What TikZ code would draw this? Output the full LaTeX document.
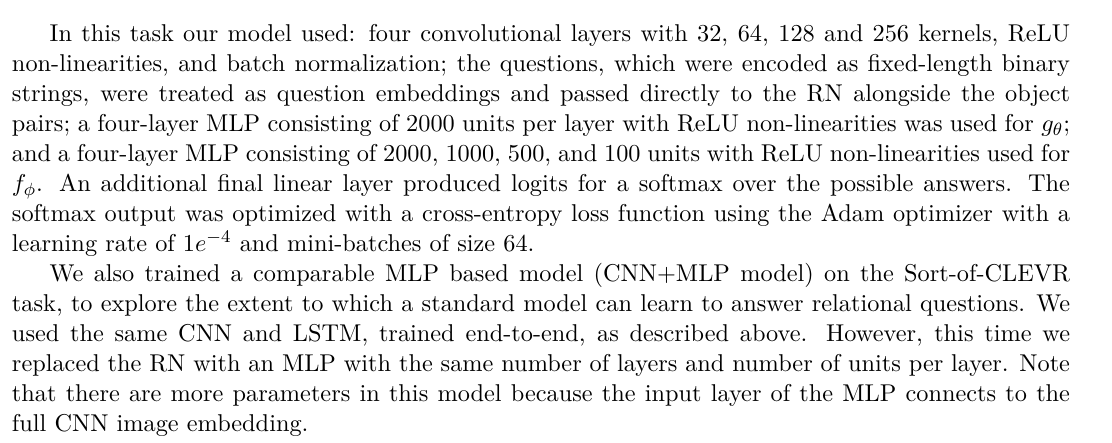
\documentclass[tikz,border=0pt]{standalone}
\usepackage{amsmath}
\usepackage{amssymb}
\usetikzlibrary{positioning}
\newcommand{\fullline}[1]{\makebox[476.6pt][s]{#1}}
\newcommand{\indentline}[1]{\makebox[459.6pt][s]{#1}}

\begin{document}
\begin{tikzpicture}[textline/.style={anchor=base west, inner sep=0pt, outer sep=0pt, font=\fontsize{10.95}{13.6}\selectfont},]
    \useasboundingbox[fill=white] (0,0) rectangle (500.9pt,-199.5pt);
    % first paragraph
    \node[textline]      (L1)       at (22.4pt,-18.8pt)                                     {\indentline{In this task our model used: four convolutional layers with 32, 64, 128 and 256 kernels, ReLU}};
    \node[textline]      (L2)       [below left=13.5pt and 17pt of L1.base west, anchor=base west] {\fullline{non-linearities, and batch normalization; the questions, which were encoded as fixed-length binary}};
    \node[textline]      (L3)       [below=13.5pt of L2.base west, anchor=base west]        {\fullline{strings, were treated as question embeddings and passed directly to the RN alongside the object}};
    \node[textline]      (L4)       [below=13.5pt of L3.base west, anchor=base west]        {\fullline{pairs; a four-layer MLP consisting of 2000 units per layer with ReLU non-linearities was used for $g_\theta$;}};
    \node[textline]      (L5)       [below=13.5pt of L4.base west, anchor=base west]        {\fullline{and a four-layer MLP consisting of 2000, 1000, 500, and 100 units with ReLU non-linearities used for}};
    \node[textline]      (L6)       [below=13.5pt of L5.base west, anchor=base west]        {\fullline{$f_\phi$. An additional final linear layer produced logits for a softmax over the possible answers. The}};
    \node[textline]      (L7)       [below=13.5pt of L6.base west, anchor=base west]        {\fullline{softmax output was optimized with a cross-entropy loss function using the Adam optimizer with a}};
    \node[textline]      (L8)       [below=13.5pt of L7.base west, anchor=base west]        {learning rate of $1e^{-4}$ and mini-batches of size 64.};
    % second paragraph
    \node[textline]      (L9)       [below right=13.5pt and 17pt of L8.base west, anchor=base west] {\indentline{We also trained a comparable MLP based model (CNN+MLP model) on the Sort-of-CLEVR}};
    \node[textline]      (L10)      [below left=13.5pt and 17pt of L9.base west, anchor=base west]  {\fullline{task, to explore the extent to which a standard model can learn to answer relational questions. We}};
    \node[textline]      (L11)      [below=13.5pt of L10.base west, anchor=base west]       {\fullline{used the same CNN and LSTM, trained end-to-end, as described above. However, this time we}};
    \node[textline]      (L12)      [below=13.5pt of L11.base west, anchor=base west]       {\fullline{replaced the RN with an MLP with the same number of layers and number of units per layer. Note}};
    \node[textline]      (L13)      [below=13.5pt of L12.base west, anchor=base west]       {\fullline{that there are more parameters in this model because the input layer of the MLP connects to the}};
    \node[textline]      (L14)      [below=13.5pt of L13.base west, anchor=base west]       {full CNN image embedding.};
\end{tikzpicture}
\end{document}
